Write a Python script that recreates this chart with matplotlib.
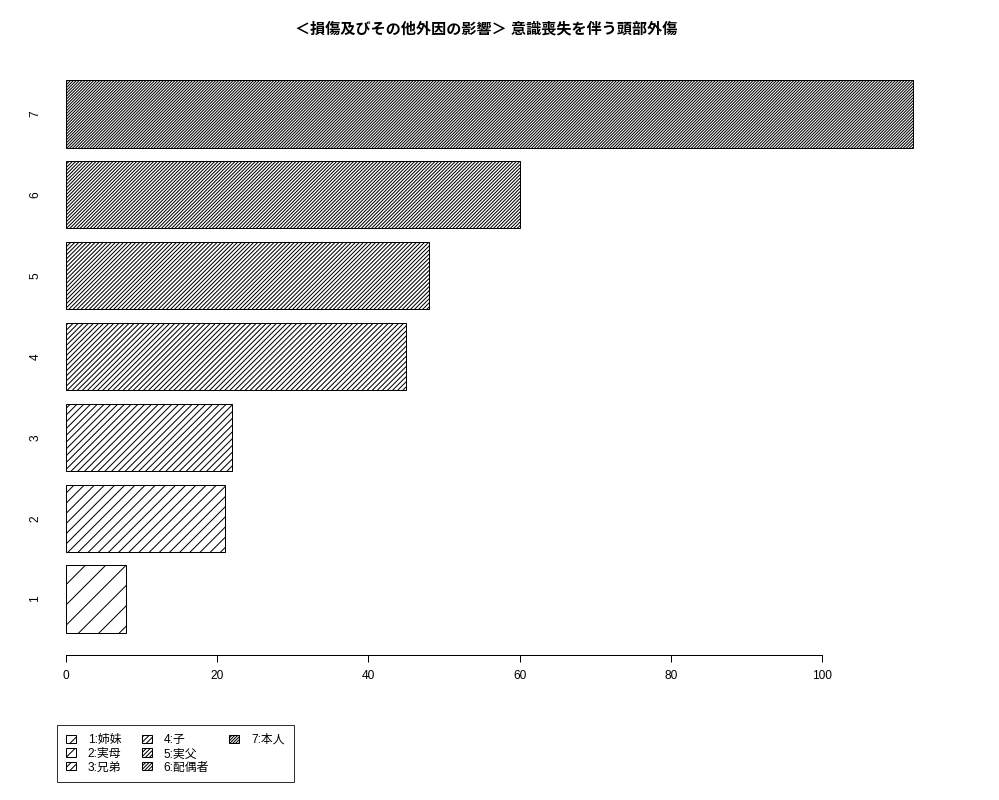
import matplotlib
matplotlib.use('Agg')
import matplotlib.pyplot as plt
from matplotlib.patches import Patch

# bar values, bottom (1) to top (7)
categories = ['1', '2', '3', '4', '5', '6', '7']
values = [8, 21, 22, 45, 48, 60, 112]
legend_labels = ['1:姉妹', '2:実母', '3:兄弟', '4:子', '5:実父', '6:配偶者', '7:本人']
hatches = ['//' * k for k in range(1, 8)]
x_ticks = [0, 20, 40, 60, 80, 100]
title = '＜損傷及びその他外因の影響＞ 意識喪失を伴う頭部外傷'

DPI = 122
plt.rcParams['font.family'] = ['Liberation Sans', 'Noto Sans CJK JP', 'DejaVu Sans']
plt.rcParams['hatch.linewidth'] = 0.6

fig = plt.figure(figsize=(1000 / DPI, 800 / DPI), dpi=DPI)
ax = fig.add_axes([32 / 1000, 1 - 655 / 800, (947 - 32) / 1000, (655 - 58) / 800])

ypos = [0.7 + 1.2 * i for i in range(len(values))]
ax.barh(ypos, values, height=1.0, color='white', edgecolor='black',
        linewidth=0.6, hatch=hatches)

ax.set_xlim(-4.48, 116.48)
ax.set_ylim(0.2 - 0.328, 8.4 + 0.328)

for s in ['top', 'right', 'left']:
    ax.spines[s].set_visible(False)
ax.spines['bottom'].set_bounds(0, 100)
ax.spines['bottom'].set_linewidth(0.6)
ax.set_xticks(x_ticks)
ax.set_xticklabels([str(t) for t in x_ticks])
ax.tick_params(axis='x', length=4.1, width=0.6, labelsize=7, pad=5)
ax.set_yticks(ypos)
ax.set_yticklabels(categories, rotation=90, va='center')
ax.tick_params(axis='y', length=0, labelsize=7, pad=-5.5)

fig.text(0.486, 1 - 29 / 800, title, ha='center', va='center',
         fontsize=8.9, fontweight='bold')

# two blank entries so the columns fill 3, 3, 1 like the original
handles = [Patch(facecolor='white', edgecolor='black', linewidth=0.6, hatch=h)
           for h in hatches]
blank = Patch(visible=False)
leg = fig.legend(handles + [blank, blank], legend_labels + ['', ''], ncol=3,
                 loc='upper left', bbox_to_anchor=(57 / 1000, 1 - 725 / 800),
                 borderaxespad=0, frameon=True, fancybox=False,
                 edgecolor='black', fontsize=7,
                 handlelength=0.85, handleheight=0.7, handletextpad=1.0,
                 columnspacing=1.7, labelspacing=0.15, borderpad=0.75)
leg.get_frame().set_linewidth(0.6)

fig.savefig('out.png', dpi=DPI)
